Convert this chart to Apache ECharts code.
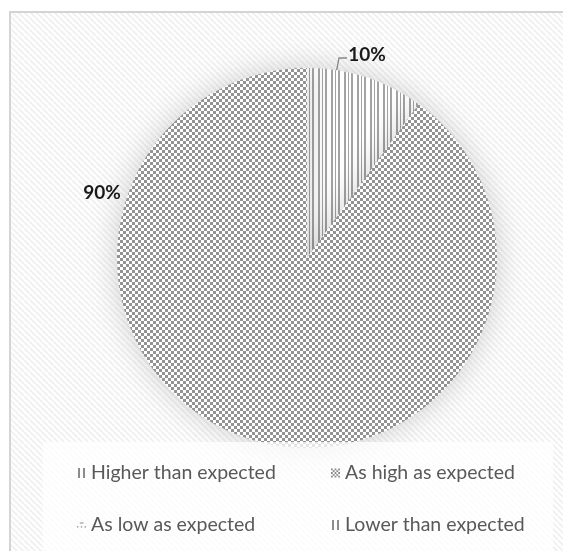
<!DOCTYPE html>
<html><head><meta charset="utf-8">
<script src="https://cdn.jsdelivr.net/npm/echarts@6/dist/echarts.min.js"></script>
<style>html,body{margin:0;padding:0;background:#fff}#c{width:563px;height:551px}</style>
</head><body><div id="c"></div>
<script>
const categories = ['Higher than expected', 'As high as expected', 'As low as expected', 'Lower than expected'];
const values = [10, 90, 0, 0];
const labelTexts = ['10%', '90%', '', ''];

function makeCanvas(w, h, draw) {
  const c = document.createElement('canvas');
  c.width = w; c.height = h;
  const g = c.getContext('2d');
  draw(g, w, h);
  return c;
}
const checker = makeCanvas(6, 6, (g) => {
  g.fillStyle = '#ffffff'; g.fillRect(0, 0, 6, 6);
  g.fillStyle = '#939393'; g.fillRect(0, 0, 3, 3); g.fillRect(3, 3, 3, 3);
});
const vstripes = makeCanvas(13, 4, (g) => {
  g.fillStyle = '#ffffff'; g.fillRect(0, 0, 13, 4);
  g.fillStyle = '#a3a3a3'; g.fillRect(0, 0, 2, 4); g.fillRect(6, 0, 2, 4); g.fillRect(10, 0, 1, 4);
});
const dots = makeCanvas(6, 6, (g) => {
  g.fillStyle = '#ffffff'; g.fillRect(0, 0, 6, 6);
  g.fillStyle = '#999'; g.fillRect(0, 0, 1, 1); g.fillRect(3, 3, 1, 1);
});
const bgDiag = makeCanvas(6, 6, (g) => {
  g.fillStyle = '#ffffff'; g.fillRect(0, 0, 6, 6);
  g.strokeStyle = '#f1f1f1'; g.lineWidth = 2;
  for (let o = -6; o <= 6; o += 6) { g.beginPath(); g.moveTo(o, 0); g.lineTo(o + 6, 6); g.stroke(); }
});

const fills = [
  { image: vstripes, repeat: 'repeat' },
  { image: checker, repeat: 'repeat' },
  { image: dots, repeat: 'repeat' },
  { image: vstripes, repeat: 'repeat' }
];

function checkerPath(n, s) {
  let p = '';
  for (let i = 0; i < n; i++) for (let j = 0; j < n; j++) if ((i + j) % 2 === 0) p += 'M' + (j * s) + ',' + (i * s) + 'h' + s + 'v' + s + 'h-' + s + 'z';
  return 'path://' + p;
}
const barsIcon = 'path://M0,0h2v10h-2z M5,0h2v10h-2z';
const dotsIcon = 'path://M0,8h1.5v1.5h-1.5z M4,8h1.5v1.5h-1.5z M8,8h1.5v1.5h-1.5z M3,4h4v1.2h-4z';
const icons = [barsIcon, checkerPath(5, 2), dotsIcon, barsIcon];

const chart = echarts.init(document.getElementById('c'));
const legendText = { color: '#595959', fontSize: 19.5, fontFamily: 'Lato', lineHeight: 20 };
function legendItem(i) {
  return { name: categories[i], icon: icons[i], itemStyle: { color: '#8c8c8c' } };
}
chart.setOption({
  animation: false,
  graphic: [
    { type: 'rect', z: -10, shape: { x: 10, y: 12, width: 700, height: 700 },
      style: { fill: { image: bgDiag, repeat: 'repeat' }, stroke: '#d4d4d4', lineWidth: 2 } },
    { type: 'rect', z: 3, shape: { x: 43, y: 442, width: 510, height: 120 },
      style: { fill: 'rgba(255,255,255,0.75)' } }
  ],
  legend: [
    { orient: 'vertical', left: 72, top: 458, itemWidth: 9, itemHeight: 10, itemGap: 32,
      textStyle: legendText, selectedMode: false, data: [legendItem(0), legendItem(2)] },
    { orient: 'vertical', left: 326, top: 458, itemWidth: 9, itemHeight: 10, itemGap: 32,
      textStyle: legendText, selectedMode: false, data: [legendItem(1), legendItem(3)] }
  ],
  series: [{
    type: 'pie',
    center: [307, 258],
    radius: 190,
    startAngle: 90,
    clockwise: true,
    silent: true,
    itemStyle: { shadowBlur: 30, shadowColor: 'rgba(0,0,0,0.18)' },
    label: { show: true, formatter: (p) => labelTexts[p.dataIndex], color: '#1a1a1a',
      fontWeight: 'bold', fontSize: 19, fontFamily: 'Lato' },
    labelLine: { show: true, lineStyle: { color: '#8c8c8c', width: 1.3 } },
    labelLayout: function (p) {
      if (p.dataIndex === 0) return { x: 367, y: 55, align: 'center', verticalAlign: 'middle',
        labelLinePoints: [[335, 79], [339, 58], [347, 58]] };
      if (p.dataIndex === 1) return { x: 102, y: 193, align: 'center', verticalAlign: 'middle',
        labelLinePoints: [[0, 0], [0, 0], [0, 0]] };
      return {};
    },
    data: categories.map((n, i) => ({
      name: n, value: values[i],
      itemStyle: { color: fills[i] },
      label: { show: values[i] > 0 },
      labelLine: { show: i === 0 }
    }))
  }]
});
</script></body></html>
